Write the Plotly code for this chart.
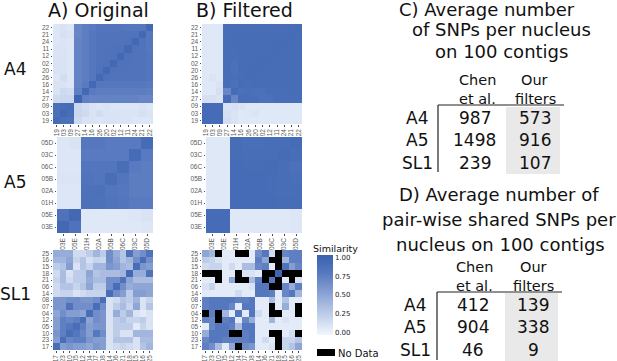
import plotly.graph_objects as go

W, H = 617, 361
N = None

a4_labels_x = ["19","03","09","27","14","16","26","20","02","12","11","24","21","22"]
a4_labels_y = ["22","21","24","11","12","02","20","26","16","14","27","09","03","19"]
a5_labels_x = ["03E","05E","01H","02A","05B","06C","03C","05D"]
a5_labels_y = ["05D","03C","06C","05B","02A","01H","05E","03E"]
sl1_labels_x = ["17","23","10","05","12","04","07","08","14","06","21","18","15","16","25"]
sl1_labels_y = ["25","16","15","18","21","06","14","08","07","04","12","05","10","23","17"]

a4_original = [
[.08,.10,.08,.70,.75,.78,.82,.82,.82,.82,.80,.80,.80,.95],
[.08,.12,.10,.70,.76,.80,.84,.84,.84,.84,.84,.84,.95,.80],
[.08,.09,.08,.72,.76,.80,.84,.84,.84,.84,.85,.95,.84,.80],
[.09,.09,.08,.72,.76,.80,.84,.84,.85,.85,.95,.85,.84,.80],
[.09,.10,.08,.72,.76,.80,.84,.85,.85,.95,.85,.84,.84,.82],
[.10,.10,.08,.72,.76,.80,.84,.85,.95,.85,.85,.84,.84,.82],
[.10,.10,.08,.72,.76,.80,.85,.95,.85,.85,.84,.84,.84,.82],
[.08,.14,.08,.72,.76,.80,.95,.85,.84,.84,.84,.84,.84,.82],
[.10,.10,.08,.72,.78,.95,.80,.80,.80,.80,.80,.80,.80,.78],
[.10,.16,.14,.74,.95,.78,.76,.76,.76,.76,.76,.76,.76,.75],
[.16,.18,.18,1.0,.74,.72,.72,.72,.72,.72,.72,.72,.70,.70],
[.88,.90,.92,.18,.14,.10,.08,.10,.08,.08,.08,.08,.10,.08],
[.88,.95,.90,.18,.16,.10,.14,.10,.10,.10,.09,.09,.12,.10],
[.92,.88,.88,.16,.10,.10,.08,.10,.10,.09,.09,.08,.08,.08],
]
a4_filtered = [
[.07,.07,.07,.90,.90,.90,.90,.90,.90,.90,.90,.90,.90,.92],
[.07,.07,.07,.90,.91,.91,.91,.91,.91,.91,.91,.91,.92,.90],
[.07,.07,.07,.90,.91,.91,.91,.91,.91,.91,.91,.92,.91,.90],
[.07,.07,.07,.90,.90,.91,.91,.91,.91,.91,.92,.91,.91,.90],
[.07,.07,.07,.90,.90,.91,.91,.91,.91,.92,.91,.91,.91,.90],
[.07,.07,.07,.90,.88,.91,.91,.91,.92,.91,.91,.91,.91,.90],
[.07,.07,.07,.90,.88,.91,.91,.92,.91,.91,.91,.91,.91,.90],
[.07,.09,.07,.90,.89,.90,.92,.91,.91,.91,.91,.91,.91,.90],
[.07,.07,.09,.90,.88,.92,.90,.91,.91,.91,.91,.91,.91,.90],
[.07,.07,.12,.70,.92,.88,.89,.88,.88,.90,.90,.90,.91,.90],
[.12,.12,.10,.92,.70,.90,.90,.90,.88,.88,.90,.90,.90,.90],
[.92,.92,.92,.10,.12,.09,.07,.07,.07,.07,.07,.07,.07,.07],
[.92,.92,.92,.12,.10,.07,.08,.09,.07,.07,.07,.07,.07,.07],
[.92,.92,.92,.14,.09,.07,.07,.07,.07,.07,.07,.07,.07,.07],
]
a5_original = [
[.08,.10,.80,.80,.78,.78,.78,.92],
[.08,.08,.78,.78,.78,.78,.92,.78],
[.08,.08,.82,.82,.82,.90,.78,.76],
[.09,.09,.84,.82,.90,.82,.76,.76],
[.08,.08,.86,.88,.82,.80,.76,.76],
[.08,.08,.88,.86,.84,.82,.78,.78],
[.85,.95,.07,.07,.07,.07,.08,.10],
[.95,.85,.07,.07,.07,.07,.07,.08],
]
a5_filtered = [
[.07,.07,.91,.89,.89,.90,.90,.92],
[.07,.07,.91,.90,.90,.90,.92,.90],
[.07,.07,.92,.91,.91,.92,.90,.88],
[.07,.07,.92,.92,.92,.91,.90,.89],
[.07,.07,.92,.92,.92,.91,.90,.90],
[.07,.07,.92,.92,.92,.92,.91,.91],
[.92,.92,.07,.07,.07,.07,.07,.08],
[.92,.92,.07,.07,.07,.07,.07,.08],
]
sl1_original = [
[.45,.45,.45,.15,.15,.25,.40,.25,.65,.45,.30,.85,.55,.65,.85],
[.40,.40,.50,.20,.30,.12,.20,.18,.65,.50,.30,.40,.65,.90,.65],
[.25,.30,.55,.10,.30,.20,.40,.40,.60,.55,.40,.35,.90,.60,.55],
[.15,.35,.10,.25,.25,.50,.30,.35,.35,.35,.40,.95,.45,.45,.85],
[.20,.35,.15,.25,.25,.45,.35,.35,.65,.65,.85,.50,.35,.35,.35],
[.15,.30,.30,.20,.30,.50,.25,.25,.65,.90,.65,.45,.50,.50,.50],
[.15,.20,.20,.10,.15,.20,.20,.20,.90,.65,.55,.25,.55,.55,.50],
[.60,.60,.65,.65,.60,.60,.65,.90,.10,.15,.30,.25,.40,.10,.20],
[.60,.60,.85,.65,.65,.65,.90,.65,.10,.25,.35,.20,.50,.10,.30],
[.50,.65,.55,.55,.50,.90,.65,.60,.10,.45,.25,.40,.10,.05,.10],
[.55,.75,.70,.75,.90,.50,.65,.60,.10,.25,.30,.20,.20,.25,.10],
[.55,.75,.80,.90,.75,.55,.60,.60,.10,.25,.25,.25,.05,.20,.10],
[.60,.75,.90,.80,.70,.55,.80,.65,.10,.25,.10,.10,.40,.40,.40],
[.55,.90,.70,.75,.75,.60,.55,.55,.10,.30,.30,.30,.10,.35,.35],
[.90,.55,.60,.55,.55,.50,.60,.55,.10,.15,.20,.15,.10,.30,.40],
]
sl1_filtered = [
[.50,.40,N,.05,.05,N,N,.05,.65,.80,.15,N,.70,.75,.75],
[.25,.20,.10,.05,.05,.05,.05,.05,.75,.50,N,N,.40,.75,.75],
[.15,.20,.20,.05,.15,.05,.35,.35,.70,.75,.05,N,.85,.55,.70],
[N,N,N,.05,.05,N,.10,.10,.05,N,N,1.0,N,N,N],
[.05,.05,N,.05,.50,N,N,.35,.75,N,.80,N,.05,N,.10],
[.10,.20,.05,.05,.05,.05,.05,.10,.80,.80,N,N,.70,.45,.75],
[.05,.05,.05,.05,.05,.15,.05,.05,.80,.80,.75,.05,.70,.80,.40],
[.75,.80,.80,.80,.80,.75,.75,.80,.05,.05,.35,.05,.30,.05,.05],
[.75,.80,.80,.80,.70,.05,.80,.80,.05,.05,N,.05,.45,.05,N],
[N,.75,N,.40,.05,.80,.05,.80,.15,.05,N,N,.05,.05,N],
[.75,.70,N,.75,.80,.05,.70,.45,.05,.05,.40,.05,.10,.05,.05],
[.05,.70,.80,.80,.75,.35,.80,.80,.05,.05,.05,.05,.05,.05,.05],
[.45,.80,.80,.80,N,N,.75,.80,.05,.05,N,N,.05,.15,N],
[.70,.80,.80,.75,.75,.75,.75,.80,.05,.15,.05,N,.20,.20,.30],
[.75,.65,.35,.05,.50,N,.65,.60,.05,.05,.10,N,.20,.30,.50],
]

table_rows = ["A4", "A5", "SL1"]
snp_chen = ["987", "1498", "239"]
snp_ours = ["573", "916", "107"]
shared_chen = ["412", "904", "46"]
shared_ours = ["139", "338", "9"]

def fx(p): return p / W
def fy(p): return 1 - p / H

fig = go.Figure()

panels = [
    (a4_original, a4_labels_x, a4_labels_y, 53, 153, 24, 124),
    (a4_filtered, a4_labels_x, a4_labels_y, 202, 302, 24, 124),
    (a5_original, a5_labels_x, a5_labels_y, 57, 153, 137, 233),
    (a5_filtered, a5_labels_x, a5_labels_y, 206, 302, 137, 233),
    (sl1_original, sl1_labels_x, sl1_labels_y, 53, 153, 250, 350),
    (sl1_filtered, sl1_labels_x, sl1_labels_y, 202, 302, 250, 350),
]
layout_axes = {}
tickf = dict(family="Liberation Sans", size=6.5, color="#5a5a5a")
for i, (z, xl, yl, l, r, t, b) in enumerate(panels, start=1):
    s = "" if i == 1 else str(i)
    fig.add_trace(go.Heatmap(z=z, x=xl, y=yl, coloraxis="coloraxis", xaxis="x" + s, yaxis="y" + s,
                             hoverongaps=False))
    layout_axes["xaxis" + s] = dict(domain=[fx(l), fx(r)], anchor="y" + s, type="category",
                                    tickmode="array", tickvals=xl, ticktext=xl,
                                    tickangle=-90, tickfont=tickf, ticks="outside", ticklen=1.5,
                                    tickwidth=0.5, tickcolor="#4d4d4d", showgrid=False, zeroline=False,
                                    showline=False, automargin=False)
    layout_axes["yaxis" + s] = dict(domain=[fy(b), fy(t)], anchor="x" + s, type="category",
                                    tickmode="array", tickvals=yl, ticktext=yl,
                                    autorange="reversed", tickfont=tickf, ticks="outside", ticklen=1.5,
                                    tickwidth=0.5, tickcolor="#4d4d4d", showgrid=False, zeroline=False,
                                    showline=False, automargin=False)

ann = []
def text(s, x, y, size, color="#111111", family="DejaVu Sans"):
    ann.append(dict(text=s, x=fx(x), y=fy(y), xref="paper", yref="paper", xanchor="center",
                    yanchor="middle", showarrow=False, font=dict(family=family, size=size, color=color)))

text("A) Original", 98, 10, 19)
text("B) Filtered", 244, 10, 19)
text("A4", 15, 69, 17)
text("A5", 15, 182, 17)
text("SL1", 15, 294, 17)
text("C) Average number", 487, 10, 18)
text("of SNPs per nucleus", 501, 30, 18)
text("on 100 contigs", 501, 52, 18)
text("D) Average number of", 499, 194, 18)
text("pair-wise shared SNPs per", 499, 219, 18)
text("nucleus on 100 contigs", 500, 244, 18)
text("Similarity", 335, 248, 9.5)
text("No Data", 358, 353, 10)

text("Chen", 477, 80, 14.5); text("et al.", 477, 99, 14.5)
text("Our", 534, 80, 14.5); text("filters", 535, 99, 14.5)
text("Chen", 475, 267, 14.5); text("et al.", 475, 286, 14.5)
text("Our", 533, 267, 14.5); text("filters", 533, 286, 14.5)
for lab, a, b, y in zip(table_rows, snp_chen, snp_ours, [118, 140, 163]):
    text(lab, 417, y, 17); text(a, 475, y, 17); text(b, 535, y, 17)
for lab, a, b, y in zip(table_rows, shared_chen, shared_ours, [305, 327, 350]):
    text(lab, 415, y, 17); text(a, 473, y, 17); text(b, 533, y, 17)

def rect(x0, x1, y0, y1, color):
    return dict(type="rect", xref="paper", yref="paper", x0=fx(x0), x1=fx(x1), y0=fy(y0), y1=fy(y1),
                fillcolor=color, line_width=0, layer="below")
def line(x0, x1, y0, y1):
    return dict(type="line", xref="paper", yref="paper", x0=fx(x0), x1=fx(x1), y0=fy(y0), y1=fy(y1),
                line=dict(color="#222222", width=1.2))

shapes = [
    rect(506, 560, 107, 174, "#e9e9e9"),
    rect(505, 558, 293, 361, "#e9e9e9"),
    line(438, 564, 105, 105), line(438, 438, 105, 172),
    line(437, 562, 292, 292), line(437, 437, 292, 360),
    rect(317, 335, 349, 356, "#000000"),
]

fig.update_layout(
    width=W, height=H, margin=dict(l=0, r=0, t=0, b=0), paper_bgcolor="white", plot_bgcolor="black",
    showlegend=False, annotations=ann, shapes=shapes,
    coloraxis=dict(
        cmin=-0.03, cmax=1.03,
        colorscale=[[0, "#f2f7fe"], [0.783, "#5577be"], [1, "#3a62b0"]],
        colorbar=dict(thickness=16, thicknessmode="pixels", len=80 / H, lenmode="fraction",
                      x=fx(317), xanchor="left", y=fy(295), yanchor="middle", xpad=0, ypad=0,
                      outlinewidth=0, ticks="", tickvals=[0, .25, .5, .75, 1],
                      ticktext=["0.00", "0.25", "0.50", "0.75", "1.00"],
                      tickfont=dict(family="DejaVu Sans", size=7, color="#222222")),
    ),
    **layout_axes,
)
fig.write_html("out.html", config={"displayModeBar": False},
               post_script="document.body.style.margin='0';document.documentElement.style.overflow='hidden';")
